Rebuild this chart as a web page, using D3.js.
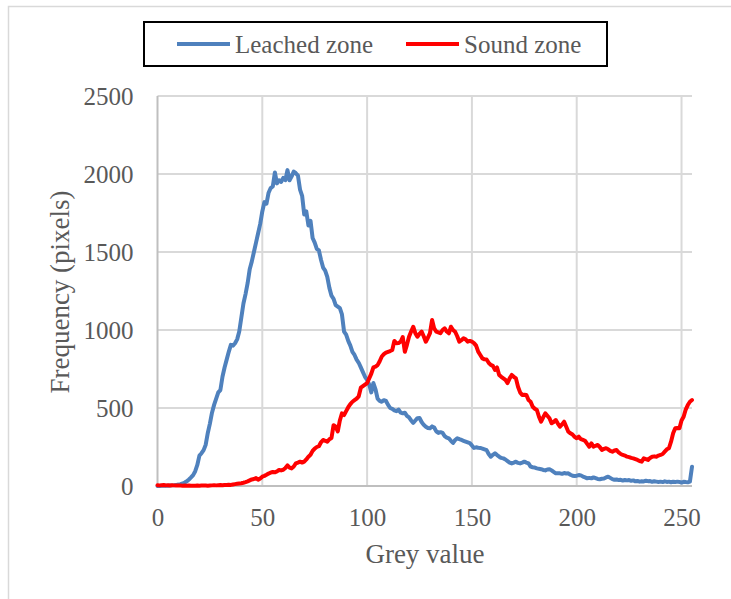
<!DOCTYPE html>
<html><head><meta charset="utf-8">
<script src="https://cdn.jsdelivr.net/npm/d3@7"></script>
<style>body{margin:0;background:#fff}svg{display:block}</style>
</head><body>
<script>
const seriesNames = ["Leached zone", "Sound zone"];
const seriesColors = ["#4f81bd", "#ff0000"];
const xTicks = [0, 50, 100, 150, 200, 250];
const yTicks = [0, 500, 1000, 1500, 2000, 2500];
const leached = [
0,0,1,1,2,2,3,4,5,7,
9,12,16,22,30,42,55,70,95,135,
195,210,230,265,340,400,470,520,560,600,
615,700,760,810,860,905,900,915,940,990,
1080,1170,1230,1300,1390,1440,1500,1560,1620,1680,
1760,1820,1810,1880,1910,1920,2010,1940,1960,1950,
1975,1960,2025,1960,1985,2015,2005,1990,1900,1860,
1740,1760,1670,1700,1590,1560,1520,1510,1450,1400,
1380,1340,1270,1220,1200,1160,1150,1140,1100,990,
970,930,900,860,840,810,790,760,730,700,
680,650,600,660,620,560,545,540,550,545,
520,500,495,485,480,490,470,466,470,450,
440,420,405,420,435,436,410,392,380,372,
370,382,375,350,340,345,340,320,310,305,
290,276,295,306,300,295,290,285,280,275,
260,244,248,245,244,240,235,230,205,188,
200,210,198,188,180,177,170,160,150,145,
150,156,148,145,150,156,150,145,124,120,
118,113,110,108,103,100,106,108,100,90,
81,82,81,78,83,80,81,72,66,64,
66,70,68,60,55,49,52,49,55,50,
45,43,46,48,55,60,52,44,40,42,
38,40,35,38,36,38,33,36,30,32,
28,30,29,34,31,32,27,30,28,26,
28,25,30,26,28,24,27,25,28,26,
22,27,25,24,28,124];
const sound = [
5,4,5,6,4,5,3,5,4,3,
4,3,2,3,2,3,2,1,2,3,
2,3,4,3,2,3,4,5,4,5,
6,5,7,6,8,7,10,12,14,16,
18,21,25,30,36,42,45,51,40,48,
60,65,72,80,85,90,88,93,103,100,
104,115,132,118,113,125,145,150,156,150,
156,170,188,200,225,240,250,255,280,295,
290,284,300,308,390,380,350,420,466,455,
480,505,525,540,550,560,575,630,640,650,
660,690,720,760,765,775,800,830,845,855,
860,865,872,930,915,916,925,955,860,905,
957,990,1021,980,957,975,990,960,925,950,
980,1064,1010,990,985,979,1000,1011,990,979,
1021,1000,989,960,925,935,947,940,925,930,
925,916,900,861,840,818,812,811,790,776,
770,744,760,712,700,690,680,660,690,712,
700,690,636,600,583,585,583,551,540,508,
495,487,444,412,440,466,450,434,402,410,
423,400,380,395,412,380,348,338,330,315,
306,316,300,295,290,270,252,273,252,258,
263,250,231,238,242,235,225,220,228,231,
215,205,199,195,188,185,180,177,172,167,
160,156,177,172,167,180,188,190,188,195,
199,205,220,235,242,284,338,370,372,370,
420,444,490,519,540,551];

const W = 731, H = 599;
const FONT = "'Liberation Serif', 'Times New Roman', serif";
const TXT = "#595959";
const svg = d3.select("body").append("svg").attr("width", W).attr("height", H);

// outer frame
svg.append("rect").attr("x", 8.5).attr("y", 6.5).attr("width", 740).attr("height", 620)
  .attr("fill", "none").attr("stroke", "#d9d9d9").attr("stroke-width", 1.5);

const x = d3.scaleLinear().domain([0, 255]).range([157.5, 692]);
const y = d3.scaleLinear().domain([0, 2500]).range([486, 96]);

// gridlines
const g = svg.append("g");
g.selectAll("line.h").data(yTicks.slice(1)).join("line")
  .attr("x1", x(0)).attr("x2", x(255)).attr("y1", d => y(d)).attr("y2", d => y(d))
  .attr("stroke", "#d9d9d9").attr("stroke-width", 2);
g.selectAll("line.v").data(xTicks.slice(1)).join("line")
  .attr("x1", d => x(d)).attr("x2", d => x(d)).attr("y1", y(0)).attr("y2", y(2500))
  .attr("stroke", "#d9d9d9").attr("stroke-width", 2);

// axes
const fmt = d3.format("d");
const xAxis = svg.append("g").attr("transform", `translate(0,${y(0)})`)
  .call(d3.axisBottom(x).tickValues(xTicks).tickFormat(fmt).tickSize(0).tickPadding(22));
const yAxis = svg.append("g").attr("transform", `translate(${x(0)},0)`)
  .call(d3.axisLeft(y).tickValues(yTicks).tickFormat(fmt).tickSize(0).tickPadding(24));
[xAxis, yAxis].forEach(a => {
  a.select(".domain").attr("stroke", "#bfbfbf").attr("stroke-width", 2);
  a.selectAll("text").attr("font-family", FONT).attr("font-size", 25).attr("fill", TXT);
});
xAxis.select(".domain").attr("d", `M${x(0)},0H${x(255)}`);
yAxis.select(".domain").attr("d", `M0,${y(0)}V${y(2500)}`);

// axis titles
svg.append("text").attr("x", 425).attr("y", 563).attr("text-anchor", "middle")
  .attr("font-family", FONT).attr("font-size", 27).attr("fill", TXT).text("Grey value");
svg.append("text").attr("transform", "translate(69,292) rotate(-90)").attr("text-anchor", "middle")
  .attr("font-family", FONT).attr("font-size", 27).attr("fill", TXT).text("Frequency (pixels)");

// lines
const line = d3.line().x((d, i) => x(i)).y(d => y(d));
[leached, sound].forEach((s, k) => {
  svg.append("path").datum(s).attr("d", line).attr("fill", "none")
    .attr("stroke", seriesColors[k]).attr("stroke-width", 4)
    .attr("stroke-linejoin", "round").attr("stroke-linecap", "round");
});

// legend
svg.append("rect").attr("x", 144).attr("y", 22).attr("width", 463).attr("height", 44)
  .attr("fill", "#fff").attr("stroke", "#000").attr("stroke-width", 2);
const legX = [177, 406];
seriesNames.forEach((n, k) => {
  svg.append("line").attr("x1", legX[k]).attr("x2", legX[k] + 53).attr("y1", 44).attr("y2", 44)
    .attr("stroke", seriesColors[k]).attr("stroke-width", 4);
  svg.append("text").attr("x", legX[k] + 58).attr("y", 52.5)
    .attr("font-family", FONT).attr("font-size", 25).attr("fill", TXT).text(n);
});
</script>
</body></html>
